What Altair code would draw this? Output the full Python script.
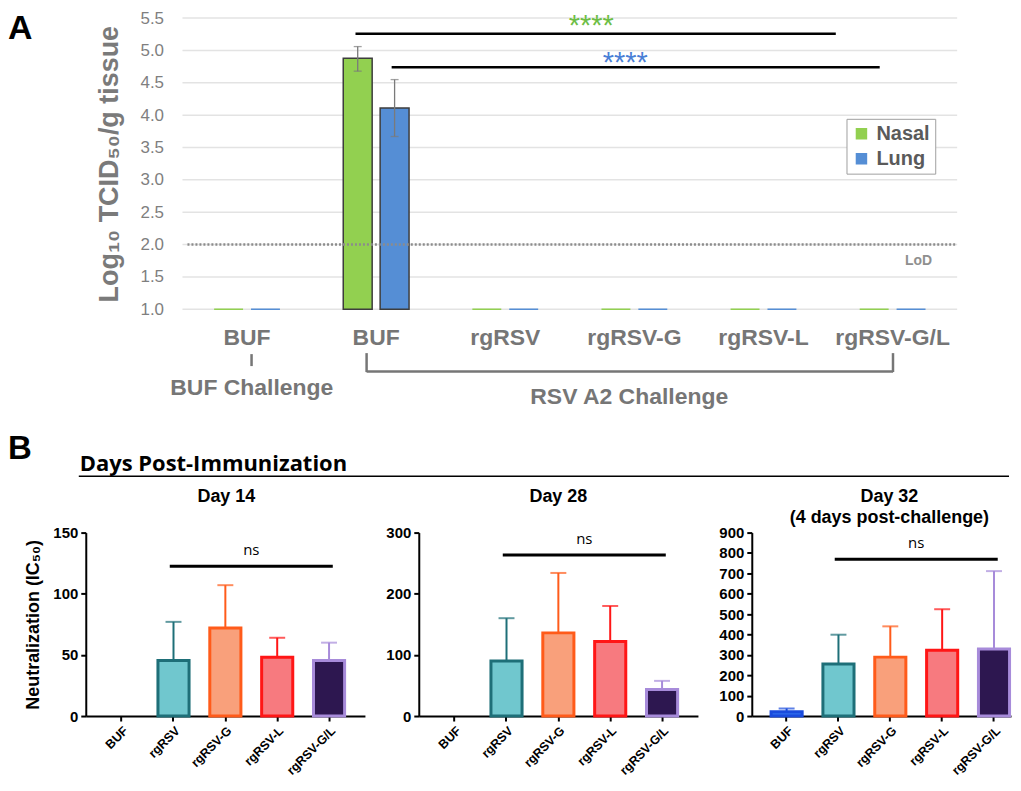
import altair as alt
import pandas as pd

# ---------------- Panel A: viral titers ----------------
A_GROUPS = ["BUF|1", "BUF|2", "rgRSV", "rgRSV-G", "rgRSV-L", "rgRSV-G/L"]
A_TISSUES = ["Nasal", "Lung"]
A_COLORS = ["#92D050", "#558ED5"]
A_NASAL = [1.0, 4.88, 1.0, 1.0, 1.0, 1.0]
A_LUNG = [1.0, 4.11, 1.0, 1.0, 1.0, 1.0]
A_NASAL_LO = [None, 4.68, None, None, None, None]
A_NASAL_HI = [None, 5.06, None, None, None, None]
A_LUNG_LO = [None, 3.67, None, None, None, None]
A_LUNG_HI = [None, 4.55, None, None, None, None]
A_BASE = 1.0
A_YTICKS = [1.0, 1.5, 2.0, 2.5, 3.0, 3.5, 4.0, 4.5, 5.0, 5.5]
LOD = 2.0
LOD_TEXT_Y = 1.74
SIG_NASAL_Y = 5.26
SIG_LUNG_Y = 4.74
STAR_NASAL_Y = 5.24
STAR_LUNG_Y = 4.67

# ---------------- Panel B: neutralization ----------------
B_GROUPS = ["BUF", "rgRSV", "rgRSV-G", "rgRSV-L", "rgRSV-G/L"]
B_FILL = ["#2F6CEB", "#70C7CE", "#F9A07B", "#F77A7F", "#2D1750"]
B_STROKE = ["#1A4BDD", "#1E6F78", "#FF5B1A", "#FF1616", "#A78BDA"]
D14_MEAN = [0, 45.5, 72, 48, 45.5]
D14_ERR = [0, 77, 107, 64, 60]
D28_MEAN = [0, 90, 136, 122, 43.5]
D28_ERR = [0, 160, 234, 180, 57.5]
D32_MEAN = [21, 255, 289, 323, 329]
D32_ERR = [37, 399, 440, 524, 711]

GRAY = "#767676"
FONT = "Liberation Sans"
one = pd.DataFrame({"k": [0]})

# panel A plot area spans [A_X0, A_W] inside its view (view origin is shared with panel B)
A_W = 874
A_X0 = 97

rows = []
for i, g in enumerate(A_GROUPS):
    rows.append(dict(group=g, tissue="Nasal", value=A_NASAL[i], lo=A_NASAL_LO[i], hi=A_NASAL_HI[i], base=A_BASE))
    rows.append(dict(group=g, tissue="Lung", value=A_LUNG[i], lo=A_LUNG_LO[i], hi=A_LUNG_HI[i], base=A_BASE))
df_a = pd.DataFrame(rows)
df_a_main = df_a[df_a["value"] > A_BASE]
df_a_flat = df_a[df_a["value"] <= A_BASE]
df_a_err = df_a.dropna(subset=["lo"]).copy()
df_grid = pd.DataFrame({"t": A_YTICKS})

YT_A = "Log₁₀ TCID₅₀/g tissue"
x_axis_a = alt.Axis(title=None, labelAngle=0, labelExpr="split(datum.label, '|')[0]",
                    labelFontSize=23, labelFontWeight="bold", labelColor=GRAY, labelFont=FONT,
                    labelPadding=17, ticks=False, domain=False, grid=False)
x_scale_a = alt.Scale(domain=A_GROUPS, paddingInner=0, paddingOuter=0, range=[A_X0, A_W])
y_axis_a = alt.Axis(values=A_YTICKS, format=".1f", labelFontSize=17, labelColor="#7f7f7f", labelFont=FONT,
                    labelPadding=19, ticks=False, domain=False, grid=False, offset=-A_X0,
                    labelOverlap=False, title=YT_A, titleFontSize=27, titleFontWeight="bold",
                    titleColor="#7a7a7a", titleFont=FONT, titlePadding=17)
y_scale_a = alt.Scale(domain=[1, 5.5], zero=False, nice=False)


def xa():
    return alt.X("group:N", scale=x_scale_a, axis=x_axis_a)


def ya(field):
    return alt.Y(f"{field}:Q", scale=y_scale_a, axis=y_axis_a)


def xd(cat, bp):
    return alt.XDatum(cat, type="nominal", bandPosition=bp, axis=x_axis_a)


def x2d(cat, bp):
    return alt.X2Datum(cat, bandPosition=bp)


def yd(v):
    return alt.YDatum(v, type="quantitative", axis=y_axis_a)


xo = alt.XOffset("tissue:N", scale=alt.Scale(domain=A_TISSUES, paddingInner=0.216, paddingOuter=0.858))

grid_a = alt.Chart(df_grid).mark_rule(color="#e3e3e3", strokeWidth=1.5).encode(
    y=ya("t"), x=alt.value(A_X0), x2=alt.value(A_W))
bars_a = alt.Chart(df_a_main).mark_bar(stroke="#3d3d3d", strokeWidth=1.5).encode(
    x=xa(), xOffset=xo, y=ya("value"), y2="base:Q",
    fill=alt.Fill("tissue:N", scale=alt.Scale(domain=A_TISSUES, range=A_COLORS),
                  legend=alt.Legend(title=None, orient="none", legendX=763, legendY=101,
                                    labelFontSize=20, labelFontWeight="bold", labelColor="#5a5a5a",
                                    labelFont=FONT, symbolType="square", symbolSize=100,
                                    symbolStrokeColor="#2a2a2a", symbolStrokeWidth=1.5,
                                    strokeColor="#a0a0a0", fillColor="white", padding=5,
                                    rowPadding=5, labelOffset=5, values=A_TISSUES)),
)
flat_a = alt.Chart(df_a_flat).mark_bar(strokeWidth=1.5, fillOpacity=0).encode(
    x=xa(), xOffset=xo, y=ya("value"), y2="base:Q",
    stroke=alt.Stroke("tissue:N", scale=alt.Scale(domain=A_TISSUES, range=A_COLORS), legend=None),
)
err_a = alt.Chart(df_a_err).mark_rule(color="#7a7a7a", strokeWidth=1.3).encode(
    x=xa(), xOffset=xo, y=ya("lo"), y2="hi:Q")
cap_hi_a = alt.Chart(df_a_err).mark_tick(color="#7a7a7a", thickness=1.3, size=8).encode(
    x=xa(), xOffset=xo, y=ya("hi"))
cap_lo_a = alt.Chart(df_a_err).mark_tick(color="#7a7a7a", thickness=1.3, size=8).encode(
    x=xa(), xOffset=xo, y=ya("lo"))

lod_rule = alt.Chart(one).mark_rule(color="#8c8c8c", strokeWidth=2.5, strokeDash=[2, 2]).encode(
    y=yd(LOD), x=alt.value(A_X0 + 5), x2=alt.value(A_W))
lod_text = alt.Chart(one).mark_text(text="LoD", fontSize=14, color="#8f8f8f", font=FONT,
                                    fontWeight="bold").encode(
    x=xd("rgRSV-G/L", 0.70), y=yd(LOD_TEXT_Y))

sig_n = alt.Chart(one).mark_rule(color="black", strokeWidth=2.5).encode(
    x=xd("BUF|2", 0.34), x2=x2d("rgRSV-G/L", 0.06), y=yd(SIG_NASAL_Y))
sig_l = alt.Chart(one).mark_rule(color="black", strokeWidth=2.5).encode(
    x=xd("BUF|2", 0.62), x2=x2d("rgRSV-G/L", 0.40), y=yd(SIG_LUNG_Y))
star_n = alt.Chart(one).mark_text(text="****", fontSize=29, color="#6DBE45", font=FONT,
                                  baseline="alphabetic").encode(
    x=xd("rgRSV-G", 0.166), y=yd(STAR_NASAL_Y))
star_l = alt.Chart(one).mark_text(text="****", fontSize=29, color="#4A7FD6", font=FONT,
                                  baseline="alphabetic").encode(
    x=xd("rgRSV-G", 0.43), y=yd(STAR_LUNG_Y))

ann_style = dict(color=GRAY, strokeWidth=2.5)
tick_buf = alt.Chart(one).mark_rule(**ann_style).encode(
    x=xd("BUF|1", 0.535), y=alt.value(337), y2=alt.value(349))
txt_buf = alt.Chart(one).mark_text(text="BUF Challenge", fontSize=23, fontWeight="bold", color=GRAY,
                                   font=FONT).encode(x=xd("BUF|1", 0.537), y=alt.value(371))
br_l = alt.Chart(one).mark_rule(**ann_style).encode(
    x=xd("BUF|2", 0.426), y=alt.value(336), y2=alt.value(355))
br_h = alt.Chart(one).mark_rule(**ann_style).encode(
    x=xd("BUF|2", 0.426), x2=x2d("rgRSV-G/L", 0.503), y=alt.value(354.5))
br_r = alt.Chart(one).mark_rule(**ann_style).encode(
    x=xd("rgRSV-G/L", 0.503), y=alt.value(336), y2=alt.value(355))
txt_rsv = alt.Chart(one).mark_text(text="RSV A2 Challenge", fontSize=23, fontWeight="bold", color=GRAY,
                                   font=FONT).encode(x=xd("rgRSV-G", 0.46), y=alt.value(380))
letter_a = alt.Chart(one).mark_text(text="A", fontSize=34, fontWeight="bold", color="black", font=FONT,
                                    align="left", baseline="alphabetic").encode(
    x=alt.value(-78), y=alt.value(21))
# section header of panel B (drawn relative to the shared view origin)
letter_b = alt.Chart(one).mark_text(text="B", fontSize=33, fontWeight="bold", color="black", font=FONT,
                                    align="left", baseline="alphabetic").encode(
    x=alt.value(-78), y=alt.value(442))
days_txt = alt.Chart(one).mark_text(text="Days Post-Immunization", fontSize=22, fontWeight="bold",
                                    color="black", font="Open Sans", align="left",
                                    baseline="alphabetic").encode(x=alt.value(-6), y=alt.value(454))
days_line = alt.Chart(one).mark_rule(color="black", strokeWidth=1.5).encode(
    x=alt.value(-7), x2=alt.value(926), y=alt.value(459.5))

panel_a = alt.layer(
    grid_a, bars_a, flat_a, err_a, cap_hi_a, cap_lo_a, lod_rule, lod_text, sig_n, sig_l, star_n, star_l,
    tick_buf, txt_buf, br_l, br_h, br_r, txt_rsv, letter_a, letter_b, days_txt, days_line,
).properties(width=A_W, height=292)


def panel_b(means, errs, ymax, yticks, width, pad_outer, align, ns_line_y, ns_text_y,
            title_lines, title_x, ytitle=None):
    df = pd.DataFrame({"group": B_GROUPS, "value": means, "err": errs})
    df_bar = df[df["value"] > 0]
    df_err = df[df["err"] > df["value"]]
    xs = alt.Scale(domain=B_GROUPS, paddingInner=0.4, paddingOuter=pad_outer, align=align)
    xax = alt.Axis(title=None, labelAngle=-45, labelFontSize=12.5, labelFontWeight="bold", labelColor="black",
                   labelFont=FONT, labelPadding=3, tickColor="black", tickWidth=2, tickSize=5,
                   domainColor="black", domainWidth=2, grid=False)
    ys = alt.Scale(domain=[0, ymax], nice=False, zero=True)
    yax = alt.Axis(values=yticks, title=ytitle, titleFontSize=18, titleFontWeight="bold", titleColor="black",
                   titleFont=FONT, titlePadding=10, labelFontSize=15, labelFontWeight="bold",
                   labelColor="black", labelFont=FONT, labelPadding=3, tickColor="black", tickWidth=2,
                   tickSize=5, domainColor="black", domainWidth=2, grid=False, labelOverlap=False)

    def xb():
        return alt.X("group:N", scale=xs, axis=xax)

    def yb(f):
        return alt.Y(f"{f}:Q", scale=ys, axis=yax)

    def xdb(cat, bp):
        return alt.XDatum(cat, type="nominal", bandPosition=bp, axis=xax)

    def ydb(v):
        return alt.YDatum(v, type="quantitative", axis=yax)

    stroke_scale = alt.Scale(domain=B_GROUPS, range=B_STROKE)
    bars = alt.Chart(df_bar).mark_bar(strokeWidth=3).encode(
        x=xb(), y=yb("value"),
        fill=alt.Fill("group:N", scale=alt.Scale(domain=B_GROUPS, range=B_FILL), legend=None),
        stroke=alt.Stroke("group:N", scale=stroke_scale, legend=None))
    err = alt.Chart(df_err).mark_rule(strokeWidth=2).encode(
        x=xb(), y=yb("value"), y2="err:Q",
        stroke=alt.Stroke("group:N", scale=stroke_scale, legend=None))
    cap = alt.Chart(df_err).mark_tick(thickness=2, size=16).encode(
        x=xb(), y=yb("err"),
        color=alt.Color("group:N", scale=alt.Scale(domain=B_GROUPS, range=B_STROKE), legend=None))
    ns_line = alt.Chart(one).mark_rule(color="black", strokeWidth=3).encode(
        x=xdb("rgRSV", 0.38), x2=alt.X2Datum("rgRSV-G/L", bandPosition=0.62), y=ydb(ns_line_y))
    ns_text = alt.Chart(one).mark_text(text="ns", fontSize=15, font="Open Sans", color="black",
                                       dx=-26).encode(x=xdb("rgRSV-L", 0.5), y=ydb(ns_text_y))
    layers = [bars, err, cap, ns_line, ns_text]
    for j, line in enumerate(title_lines):
        layers.append(alt.Chart(one).mark_text(text=line, fontSize=18, fontWeight="bold", font=FONT,
                                               color="black").encode(
            x=alt.value(title_x), y=alt.value(-36 + 21 * j)))
    return alt.layer(*layers).properties(width=width, height=184)


p14 = panel_b(D14_MEAN, D14_ERR, 150, [0, 50, 100, 150], 280, 0.392, 0.5, 122.5, 136,
              ["Day 14"], 141, "Neutralization (IC₅₀)")
p28 = panel_b(D28_MEAN, D28_ERR, 300, [0, 100, 200, 300], 280, 0.392, 0.5, 263.5, 290,
              ["Day 28"], 140)
p32 = panel_b(D32_MEAN, D32_ERR, 900, list(range(0, 901, 100)), 260, 0.2, 0.93, 769, 847,
              ["Day 32", "(4 days post-challenge)"], 138)

panel_b_row = alt.hconcat(p14, p28, p32, spacing=20).resolve_scale(y="independent", x="independent")

chart = alt.vconcat(panel_a, panel_b_row, spacing=10).resolve_scale(
    fill="independent", stroke="independent", color="independent"
).properties(
    padding={"left": 0, "top": 0, "right": 1, "bottom": 0}
).configure(font=FONT).configure_view(stroke=None)

chart.save("out.html", embed_options={"renderer": "svg", "actions": False})
